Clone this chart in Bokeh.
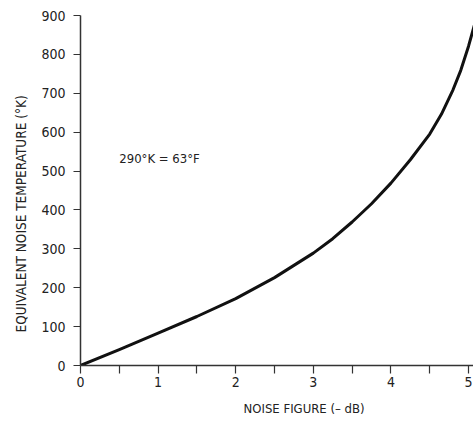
from bokeh.plotting import figure
from bokeh.models import FixedTicker, Label, Range1d, Title
from bokeh.embed import file_html
from bokeh.resources import INLINE

# Data
noise_figure_db = [0, 0.5, 1, 1.5, 2, 2.5, 3, 3.25, 3.5, 3.75, 4, 4.25, 4.5, 4.65, 4.8, 4.9, 5, 5.1]
noise_temp_k = [0, 41, 83, 126, 172, 226, 289, 326, 369, 416, 469, 529, 595, 646, 709, 759, 821, 893]
x_ticks = [0, 1, 2, 3, 4, 5]
x_minor = [0.5, 1.5, 2.5, 3.5, 4.5]
y_ticks = [0, 100, 200, 300, 400, 500, 600, 700, 800, 900]
x_title = "NOISE FIGURE (– dB)"
y_title = "EQUIVALENT NOISE TEMPERATURE (°K)"
note = "290°K  = 63°F"

FONT = "DejaVu Sans Condensed"
TXT = "#222222"

p = figure(width=473, height=427, output_backend="svg", toolbar_location=None,
           x_range=Range1d(0, 5.064), y_range=Range1d(0, 900),
           min_border_left=79, min_border_right=0, min_border_top=15, min_border_bottom=62)
p.outline_line_color = None
p.xgrid.visible = False
p.ygrid.visible = False
p.background_fill_color = "white"
p.border_fill_color = "white"

p.line(noise_figure_db, noise_temp_k, line_color="#111111", line_width=3, line_join="round")

xa = p.xaxis[0]
xa.ticker = FixedTicker(ticks=x_ticks, minor_ticks=x_minor)
xa.axis_line_color = "#333333"
xa.axis_line_width = 1.5
xa.major_tick_line_color = "#333333"
xa.minor_tick_line_color = "#333333"
xa.major_tick_line_width = 1.2
xa.minor_tick_line_width = 1.2
xa.major_tick_in = 0
xa.major_tick_out = 8
xa.minor_tick_in = 0
xa.minor_tick_out = 8
xa.major_label_standoff = 3
xa.major_label_text_font = FONT
xa.major_label_text_font_size = "14px"
xa.major_label_text_color = TXT

ya = p.yaxis[0]
ya.ticker = FixedTicker(ticks=y_ticks, minor_ticks=[])
ya.axis_line_color = "#333333"
ya.axis_line_width = 1.5
ya.major_tick_line_color = "#333333"
ya.major_tick_line_width = 1.2
ya.major_tick_in = 0
ya.major_tick_out = 7
ya.minor_tick_out = 0
ya.major_label_standoff = 8
ya.major_label_text_font = FONT
ya.major_label_text_font_size = "14px"
ya.major_label_text_color = TXT

p.add_layout(Title(text=x_title, align="left", offset=163, standoff=19, text_font=FONT,
                   text_font_size="13px", text_font_style="normal", text_color=TXT), "below")
p.add_layout(Title(text=y_title, align="left", offset=33, standoff=20, text_font=FONT,
                   text_font_size="13.5px", text_font_style="normal", text_color=TXT), "left")
p.add_layout(Label(x=0.50, y=532, text=note, text_align="left", text_baseline="middle",
                   text_font=FONT, text_font_size="13px", text_color=TXT))

open("out.html", "w").write(file_html(p, INLINE))
